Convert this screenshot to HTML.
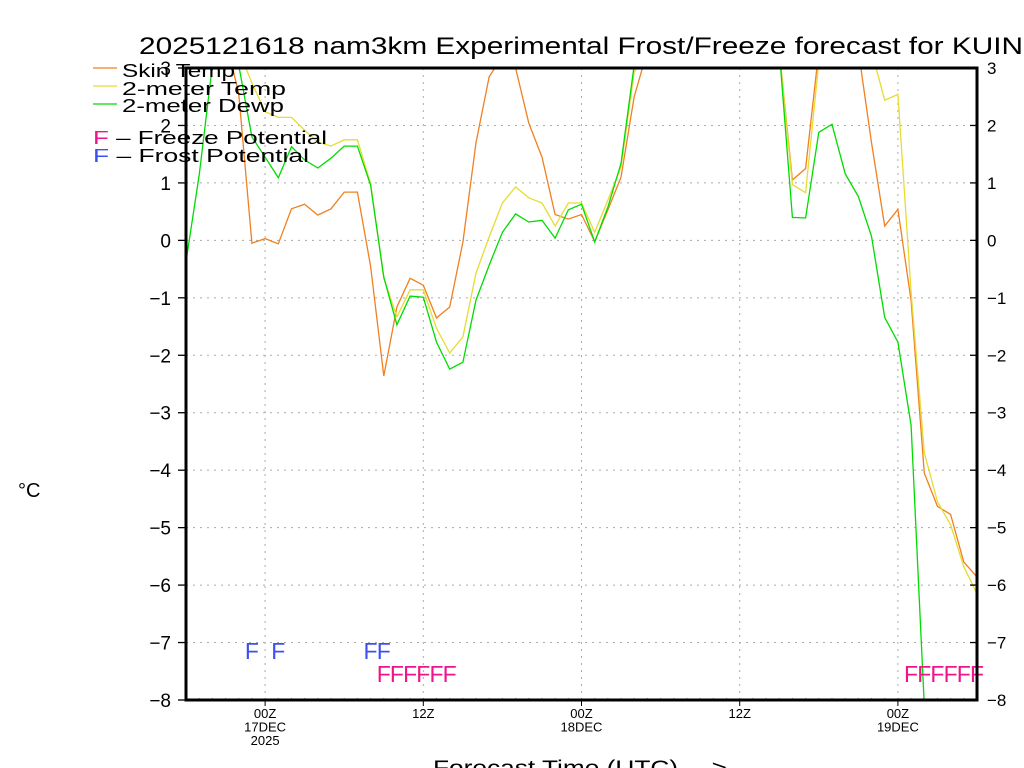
<!DOCTYPE html>
<html><head><meta charset="utf-8"><style>
html,body{margin:0;padding:0;background:#fff;}
svg{display:block;font-family:"Liberation Sans",sans-serif;}
</style></head><body>
<svg id="chart" width="1024" height="768" viewBox="0 0 1024 768" xmlns="http://www.w3.org/2000/svg">
<defs><clipPath id="plotclip"><rect x="186" y="68" width="791" height="632"/></clipPath></defs>
<text x="139" y="54" font-size="24" textLength="884" lengthAdjust="spacingAndGlyphs">2025121618 nam3km Experimental Frost/Freeze forecast for KUIN</text>
<g id="grid"></g>
<g id="series" clip-path="url(#plotclip)"></g>
<g id="flags"></g>
<g id="axes"></g>
<text x="18" y="497" font-size="20">°C</text>
<text x="433" y="775" font-size="21" textLength="294" lengthAdjust="spacingAndGlyphs">Forecast Time (UTC) ---&gt;</text>
<g>
<line x1="93" y1="68" x2="117" y2="68" stroke="#f08020" stroke-width="1.3"/>
<text x="122" y="77" font-size="18" textLength="113" lengthAdjust="spacingAndGlyphs">Skin Temp</text>
<line x1="93" y1="86" x2="117" y2="86" stroke="#e6dc32" stroke-width="1.3"/>
<text x="122" y="95" font-size="18" textLength="164" lengthAdjust="spacingAndGlyphs">2-meter Temp</text>
<line x1="93" y1="104" x2="117" y2="104" stroke="#00dc00" stroke-width="1.3"/>
<text x="122" y="112" font-size="18" textLength="162" lengthAdjust="spacingAndGlyphs">2-meter Dewp</text>
<text x="93" y="144" font-size="18" textLength="234" lengthAdjust="spacingAndGlyphs"><tspan fill="#f0148c">F</tspan> – Freeze Potential</text>
<text x="93" y="162" font-size="18" textLength="216" lengthAdjust="spacingAndGlyphs"><tspan fill="#3c50f0">F</tspan> – Frost Potential</text>
</g>
</svg>
<script>
const hours = Array.from({length:61},(_,i)=>i);
const skinTemp = [3.5,3.5,3.5,3.5,2.56,-0.05,0.03,-0.06,0.55,0.63,0.44,0.55,0.84,0.84,-0.45,-2.36,-1.16,-0.66,-0.78,-1.35,-1.16,-0.03,1.7,2.85,3.2,3.0,2.04,1.45,0.45,0.37,0.45,-0.02,0.53,1.1,2.5,3.3,3.5,3.5,3.5,3.5,3.5,3.5,3.5,3.5,3.5,3.3,1.05,1.25,3.3,3.5,3.5,3.3,1.7,0.25,0.54,-1.05,-4.05,-4.63,-4.77,-5.6,-5.86];
const temp2m = [3.5,3.5,3.5,3.5,3.3,2.74,2.24,2.14,2.14,1.92,1.71,1.64,1.75,1.75,0.99,-0.66,-1.33,-0.86,-0.86,-1.53,-1.96,-1.68,-0.57,0.06,0.65,0.93,0.74,0.65,0.25,0.65,0.65,0.14,0.7,1.28,2.93,3.3,3.5,3.5,3.5,3.5,3.5,3.5,3.5,3.5,3.5,3.3,0.97,0.83,3.1,3.5,3.5,3.5,3.3,2.44,2.54,-0.9,-3.7,-4.55,-4.95,-5.68,-6.15];
const dewp2m = [-0.37,1.14,3.05,3.5,3.05,1.8,1.45,1.09,1.63,1.4,1.26,1.43,1.64,1.64,0.96,-0.64,-1.47,-0.97,-0.99,-1.77,-2.24,-2.12,-1.04,-0.43,0.14,0.46,0.32,0.35,0.04,0.53,0.63,-0.03,0.58,1.34,3.05,3.5,3.5,3.5,3.5,3.5,3.5,3.5,3.5,3.5,3.5,3.3,0.4,0.39,1.88,2.02,1.16,0.76,0.07,-1.34,-1.77,-3.22,-8.1,-9,-9,-9,-9];
const frostHours = [5,7,14,15];
const freezeHours = [15,16,17,18,19,20,55,56,57,58,59,60];
const yTicks = [3,2,1,0,-1,-2,-3,-4,-5,-6,-7,-8];
const xMajor = [{h:6,l:["00Z","17DEC","2025"]},{h:18,l:["12Z"]},{h:30,l:["00Z","18DEC"]},{h:42,l:["12Z"]},{h:54,l:["00Z","19DEC"]}];

const X0=186,X1=977,Y0=68,Y1=700,HMAX=60,VMAX=3,VMIN=-8;
const xs=h=>X0+(X1-X0)*h/HMAX;
const ys=v=>Y0+(Y1-Y0)*(VMAX-v)/(VMAX-VMIN);
const NS="http://www.w3.org/2000/svg";
function mk(tag,attrs,parent,txt){const e=document.createElementNS(NS,tag);for(const k in attrs)e.setAttribute(k,attrs[k]);if(txt!==undefined)e.textContent=txt;parent.appendChild(e);return e;}
const grid=document.getElementById('grid'),series=document.getElementById('series'),flags=document.getElementById('flags'),axes=document.getElementById('axes');

yTicks.forEach(v=>{
  const y=ys(v);
  if(v<VMAX&&v>VMIN){const g=mk('line',{x1:X0,x2:X1,y1:y,y2:y,stroke:'#aaa','stroke-dasharray':'2,5','stroke-width':1},grid);
  
  }
  const t1=mk('line',{x1:X0-8,x2:X0,y1:y,y2:y,stroke:'#000','stroke-width':1.3},axes);
  
  
  const t2=mk('line',{x1:X1-7,x2:X1,y1:y,y2:y,stroke:'#000','stroke-width':1.3},axes);
  
  
  const lab=(v<0?'\u2212':'')+Math.abs(v);
  const l1=mk('text',{x:171,y:y+7,'font-size':19,'text-anchor':'end'},axes,lab);
  
  
  const l2=mk('text',{x:987,y:y+6,'font-size':17},axes,lab);
  
  
});
hours.forEach(h=>{const t=mk('line',{x1:xs(h),x2:xs(h),y1:Y1-2,y2:Y1,stroke:'#888','stroke-width':1},axes);
  
  });
xMajor.forEach(m=>{
  const x=xs(m.h);
  const g=mk('line',{x1:x,x2:x,y1:Y0,y2:Y1,stroke:'#aaa','stroke-dasharray':'2,5','stroke-width':1},grid);
  
  
  const t=mk('line',{x1:x,x2:x,y1:Y1,y2:Y1+6,stroke:'#000','stroke-width':1},axes);
  
  
  m.l.forEach((s,i)=>{const tx=mk('text',{x:x,y:718+i*13.5,'font-size':13,'text-anchor':'middle'},axes,s);
    
    });
});
const fr=mk('rect',{x:X0,y:Y0,width:X1-X0,height:Y1-Y0,fill:'none',stroke:'#000','stroke-width':3},axes);



function line(arr,color,name){
  const d=arr.map((v,i)=>(i?'L':'M')+xs(hours[i]).toFixed(1)+','+ys(v).toFixed(1)).join('');
  const p=mk('path',{d:d,fill:'none',stroke:color,'stroke-width':1.3},series);
  
  
}
line(skinTemp,'#f08020','skin-temp-line');
line(temp2m,'#e6dc32','2m-temp-line');
line(dewp2m,'#00dc00','2m-dewp-line');

frostHours.forEach(h=>{const t=mk('text',{x:xs(h),y:659,'font-size':23,'text-anchor':'middle',fill:'#3c50f0'},flags,'F');
  
  });
freezeHours.forEach(h=>{const t=mk('text',{x:xs(h),y:682,'font-size':23,'text-anchor':'middle',fill:'#f0148c'},flags,'F');
  
  });
</script>
</body></html>
